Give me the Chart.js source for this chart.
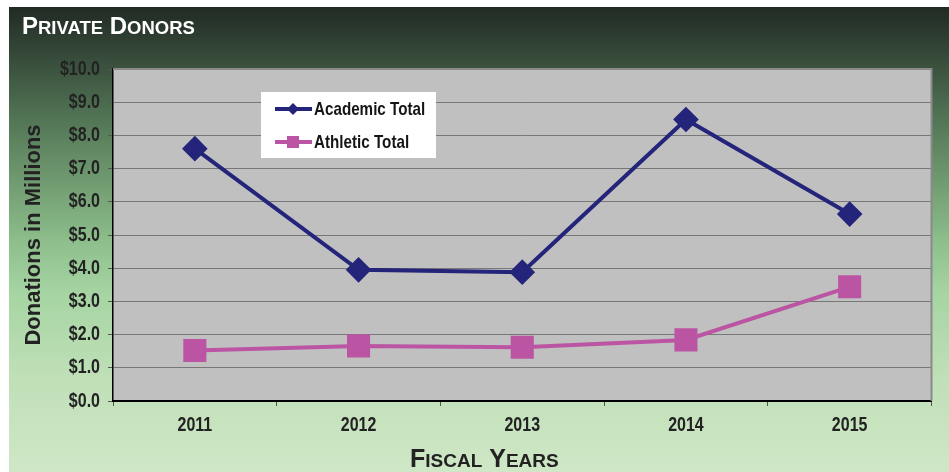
<!DOCTYPE html>
<html>
<head>
<meta charset="utf-8">
<script src="https://cdn.jsdelivr.net/npm/chart.js@4/dist/chart.umd.min.js"></script>
<style>
  html, body { margin: 0; padding: 0; background: #fff; }
  #wrap { position: relative; width: 949px; height: 472px; }
</style>
</head>
<body>
<div id="wrap"><canvas id="donorsChart"></canvas></div>
<script>
// chart data
const fiscalYears = ['2011', '2012', '2013', '2014', '2015'];
const academicTotal = [7.6, 3.95, 3.88, 8.48, 5.63];
const athleticTotal = [1.52, 1.66, 1.62, 1.84, 3.44];
const seriesNames = ['Academic Total', 'Athletic Total'];

const wideFont = '"Liberation Sans", Arial, sans-serif';

// draws text like "PRIVATE DONORS" in small caps: first letters big, rest small
function drawSmallCaps(ctx, text, x, y, bigSize, smallSize, color) {
    ctx.save();
    ctx.fillStyle = color;
    ctx.textBaseline = 'alphabetic';
    ctx.textAlign = 'left';
    let cx = x;
    text.split(' ').forEach((word, i) => {
        ctx.font = 'bold ' + bigSize + 'px ' + wideFont;
        if (i > 0) cx += ctx.measureText(' ').width;
        ctx.fillText(word[0], cx, y);
        cx += ctx.measureText(word[0]).width;
        ctx.font = 'bold ' + smallSize + 'px ' + wideFont;
        const rest = word.slice(1).toUpperCase();
        ctx.fillText(rest, cx, y);
        cx += ctx.measureText(rest).width;
    });
    ctx.restore();
}

// no narrow Arial installed, so squeeze the bold sans horizontally
function drawNarrow(ctx, text, x, y, align, size, color) {
    ctx.save();
    ctx.translate(x, y);
    ctx.scale(0.8, 1);
    ctx.font = 'bold ' + size + 'px ' + wideFont;
    ctx.fillStyle = color;
    ctx.textAlign = align;
    ctx.textBaseline = 'middle';
    ctx.fillText(text, 0, 0);
    ctx.restore();
}

// background, plot fill, titles, tick labels and the boxed legend
const donorsDecor = {
    id: 'donorsDecor',
    beforeDraw(chart) {
        const { ctx, chartArea: a } = chart;
        ctx.save();
        ctx.fillStyle = '#ffffff';
        ctx.fillRect(0, 0, chart.width, chart.height);
        const g = ctx.createLinearGradient(0, 7, 0, chart.height);
        g.addColorStop(0, '#212b24');
        g.addColorStop(0.07, '#2f3f32');
        g.addColorStop(0.24, '#527555');
        g.addColorStop(0.5, '#8cbd8a');
        g.addColorStop(0.61, '#a5d4a2');
        g.addColorStop(0.8, '#c0e0b8');
        g.addColorStop(1, '#cfe7c6');
        ctx.fillStyle = g;
        ctx.fillRect(9, 7, chart.width - 9, chart.height - 7);
        ctx.fillStyle = '#c0c0c0';
        ctx.fillRect(a.left, a.top, a.right - a.left, a.bottom - a.top);
        ctx.restore();
    },
    beforeDatasetsDraw(chart) {
        const { ctx, chartArea: a } = chart;
        ctx.save();
        ctx.strokeStyle = '#8a8a8a';
        ctx.lineWidth = 2;
        ctx.beginPath();
        ctx.moveTo(a.left, a.top);
        ctx.lineTo(a.right, a.top);
        ctx.lineTo(a.right, a.bottom);
        ctx.stroke();
        ctx.restore();
    },
    afterDraw(chart) {
        const { ctx } = chart;
        const xs = chart.scales.x, ys = chart.scales.y;

        drawSmallCaps(ctx, 'Private Donors', 22, 34, 24, 18.5, '#ffffff');
        drawSmallCaps(ctx, 'Fiscal Years', 410, 467, 25, 19, '#222222');

        ys.ticks.forEach((t) => {
            drawNarrow(ctx, '$' + t.value.toFixed(1), 100, ys.getPixelForValue(t.value), 'right', 20, '#222');
        });
        fiscalYears.forEach((lbl, i) => {
            drawNarrow(ctx, lbl, xs.getPixelForTick(i), 425, 'center', 20, '#222');
        });

        // legend box
        ctx.save();
        ctx.fillStyle = '#ffffff';
        ctx.fillRect(261, 92, 175, 66);
        chart.data.datasets.forEach((ds, i) => {
            const y = 109 + i * 33;
            ctx.strokeStyle = ds.borderColor;
            ctx.lineWidth = 4;
            ctx.beginPath();
            ctx.moveTo(275, y);
            ctx.lineTo(312, y);
            ctx.stroke();
            ctx.fillStyle = ds.borderColor;
            ctx.beginPath();
            if (ds.pointStyle === 'rectRot') {
                ctx.moveTo(293, y - 6);
                ctx.lineTo(299, y);
                ctx.lineTo(293, y + 6);
                ctx.lineTo(287, y);
                ctx.closePath();
            } else {
                ctx.rect(287, y - 6, 12, 12);
            }
            ctx.fill();
            drawNarrow(ctx, ds.label, 314, y + 1, 'left', 19, '#151515');
        });
        ctx.restore();
    }
};

new Chart(document.getElementById('donorsChart'), {
    type: 'line',
    data: {
        labels: fiscalYears,
        datasets: [{
            label: seriesNames[0],
            data: academicTotal,
            borderColor: '#24247a',
            backgroundColor: '#24247a',
            borderWidth: 4,
            pointStyle: 'rectRot',
            pointRadius: 10,
            pointHoverRadius: 10,
            tension: 0
        }, {
            label: seriesNames[1],
            data: athleticTotal,
            borderColor: '#bb55a3',
            backgroundColor: '#bb55a3',
            borderWidth: 4,
            pointStyle: 'rect',
            pointRadius: 13.5,
            pointHoverRadius: 13.5,
            tension: 0
        }]
    },
    options: {
        responsive: true,
        maintainAspectRatio: false,
        animation: false,
        layout: { padding: { top: 69, right: 17, left: 0, bottom: 0 } },
        plugins: {
            legend: { display: false },
            tooltip: { enabled: false }
        },
        scales: {
            x: {
                offset: true,
                afterFit: (s) => { s.height = 71; },
                grid: {
                    offset: true,
                    drawOnChartArea: false,
                    tickLength: 5,
                    tickColor: '#555'
                },
                border: { color: '#000', width: 2 },
                ticks: { display: false }
            },
            y: {
                min: 0,
                max: 10,
                afterFit: (s) => { s.width = 113; },
                grid: {
                    color: '#777',
                    borderDash: [3, 2],
                    tickBorderDash: [],
                    tickColor: '#555',
                    tickLength: 5
                },
                border: { color: '#000', width: 1.5 },
                ticks: { stepSize: 1, display: false },
                title: {
                    display: true,
                    text: 'Donations in Millions',
                    color: '#222',
                    padding: { top: 21, bottom: 0 },
                    font: { family: wideFont, size: 22, weight: 'bold' }
                }
            }
        }
    },
    plugins: [donorsDecor]
});
</script>
</body>
</html>
